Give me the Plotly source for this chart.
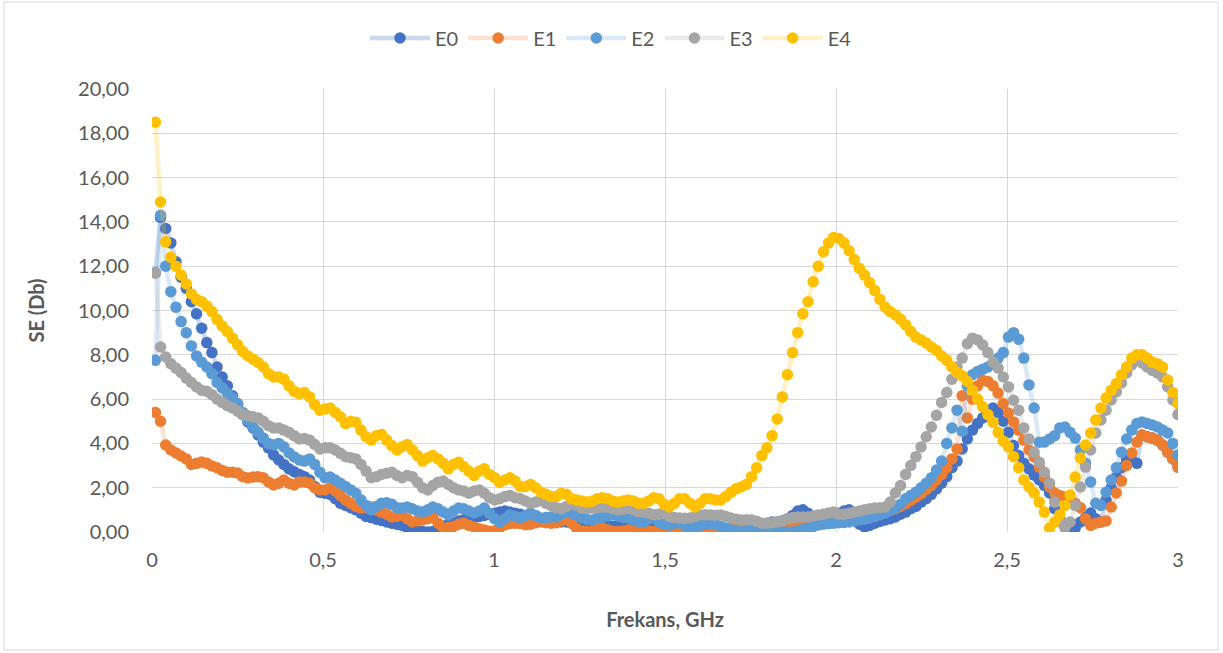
import numpy as np
import plotly.graph_objects as go

# Frequency sweep (GHz): 200 equally spaced measurement points
FREQ_START, FREQ_STOP, N_POINTS = 0.01, 3.0, 200
freq = np.linspace(FREQ_START, FREQ_STOP, N_POINTS)

series_names = ["E0", "E1", "E2", "E3", "E4"]

E0 = [
    11.7, 14.2, 13.7, 13.05, 12.2, 11.5, 11.0, 10.4, 9.85, 9.2,
    8.55, 8.1, 7.45, 7.0, 6.6, 6.15, 5.75, 5.3, 4.97, 4.7,
    4.38, 4.06, 3.8, 3.48, 3.25, 3.05, 2.85, 2.72, 2.6, 2.5,
    2.35, 2.05, 1.8, 1.75, 1.7, 1.5, 1.3, 1.2, 1.1, 1.0,
    0.85, 0.7, 0.65, 0.58, 0.52, 0.45, 0.4, 0.35, 0.3, 0.2,
    0.1, 0.05, 0.02, 0.0, 0.02, 0.1, 0.25, 0.35, 0.4, 0.5,
    0.55, 0.6, 0.65, 0.7, 0.75, 0.8, 0.85, 0.9, 0.95, 0.9,
    0.85, 0.8, 0.75, 0.7, 0.65, 0.6, 0.55, 0.5, 0.5, 0.45,
    0.45, 0.4, 0.4, 0.35, 0.35, 0.3, 0.35, 0.3, 0.3, 0.25,
    0.3, 0.25, 0.2, 0.25, 0.2, 0.2, 0.25, 0.2, 0.2, 0.2,
    0.2, 0.15, 0.15, 0.1, 0.1, 0.1, 0.1, 0.05, 0.05, 0.1,
    0.1, 0.1, 0.15, 0.2, 0.2, 0.25, 0.3, 0.3, 0.35, 0.4,
    0.45, 0.45, 0.5, 0.6, 0.75, 0.95, 1.0, 0.85, 0.6, 0.5,
    0.5, 0.55, 0.7, 0.85, 0.95, 1.0, 0.7, 0.35, 0.23, 0.3,
    0.4, 0.48, 0.54, 0.6, 0.68, 0.8, 0.9, 1.05, 1.15, 1.35,
    1.5, 1.7, 1.95, 2.2, 2.5, 2.9, 3.2, 3.75, 4.2, 4.6,
    4.9, 5.15, 5.4, 5.6, 5.4, 5.0, 4.5, 3.9, 3.45, 3.1,
    2.85, 2.57, 2.35, 2.1, 1.76, 1.05, 0.6, 0.3, 0.2, 0.18,
    0.45, 0.65, 0.86, 0.6, 0.45, 1.44, 2.0, 2.48, 2.9, 3.25,
    3.25, 3.1, 4.38, 4.3, 4.24, 4.15, 3.93, 3.6, 3.3, 2.93,
]

E1 = [
    5.4, 5.0, 3.93, 3.7, 3.57, 3.43, 3.3, 3.05, 3.1, 3.16,
    3.1, 2.98, 2.9, 2.78, 2.7, 2.7, 2.66, 2.5, 2.44, 2.48,
    2.5, 2.45, 2.26, 2.12, 2.2, 2.35, 2.2, 2.12, 2.26, 2.26,
    2.2, 2.0, 1.9, 1.9, 2.0, 1.85, 1.65, 1.45, 1.3, 1.15,
    1.08, 1.1, 1.13, 1.0, 0.9, 0.8, 0.68, 0.7, 0.77, 0.6,
    0.45, 0.5, 0.54, 0.6, 0.68, 0.4, 0.18, 0.2, 0.25, 0.35,
    0.4, 0.3, 0.23, 0.15, 0.09, 0.03, 0.05, 0.2, 0.32, 0.38,
    0.4, 0.38, 0.33, 0.35, 0.42, 0.45, 0.42, 0.4, 0.42, 0.5,
    0.54, 0.4, 0.15, 0.05, 0.02, 0.05, 0.12, 0.18, 0.1, 0.02,
    0.02, 0.05, 0.09, 0.05, 0.0, 0.02, 0.05, 0.02, 0.0, 0.02,
    0.05, 0.05, 0.1, 0.1, 0.05, 0.05, 0.1, 0.1, 0.15, 0.1,
    0.1, 0.15, 0.2, 0.2, 0.15, 0.2, 0.2, 0.25, 0.25, 0.3,
    0.3, 0.3, 0.35, 0.35, 0.4, 0.4, 0.45, 0.45, 0.5, 0.5,
    0.55, 0.55, 0.6, 0.6, 0.62, 0.65, 0.68, 0.7, 0.72, 0.75,
    0.8, 0.85, 0.9, 0.98, 1.05, 1.15, 1.28, 1.42, 1.57, 1.72,
    1.92, 2.1, 2.35, 2.6, 2.9, 3.3, 3.75, 6.15, 5.15, 6.0,
    6.6, 6.85, 6.8, 6.6, 6.27, 5.8, 5.37, 4.97, 4.6, 4.15,
    3.7, 3.39, 2.93, 2.48, 2.03, 1.76, 1.65, 1.58, 1.44, 1.3,
    1.1, 0.6, 0.3, 0.4, 0.45, 0.5, 1.13, 1.76, 2.3, 3.0,
    3.57, 4.06, 4.38, 4.3, 4.24, 4.15, 3.93, 3.6, 3.3, 2.93,
]

E2 = [
    7.75, 14.3, 12.0, 10.85, 10.15, 9.5, 9.0, 8.4, 7.95, 7.67,
    7.45, 7.15, 6.75, 6.5, 6.27, 6.05, 5.8, 5.4, 5.05, 4.75,
    4.5, 4.24, 4.0, 3.93, 4.0, 3.84, 3.57, 3.39, 3.25, 3.2,
    3.3, 3.05, 2.7, 2.45, 2.48, 2.35, 2.2, 2.05, 1.9, 1.75,
    1.45, 1.2, 1.0, 1.15, 1.3, 1.32, 1.25, 1.1, 1.08, 1.13,
    1.05, 0.95, 0.9, 1.0, 1.13, 1.05, 0.9, 0.77, 0.95, 1.08,
    1.05, 0.95, 0.86, 0.95, 1.08, 0.85, 0.6, 0.45, 0.6, 0.77,
    0.7, 0.63, 0.72, 0.86, 0.75, 0.63, 0.65, 0.68, 0.68, 0.8,
    0.9, 0.85, 0.77, 0.65, 0.56, 0.54, 0.62, 0.68, 0.72, 0.77,
    0.72, 0.65, 0.63, 0.55, 0.48, 0.45, 0.6, 0.65, 0.45, 0.35,
    0.32, 0.4, 0.45, 0.3, 0.2, 0.22, 0.3, 0.35, 0.4, 0.35,
    0.25, 0.18, 0.1, 0.05, 0.0, 0.05, 0.09, 0.1, 0.09, 0.08,
    0.09, 0.05, 0.0, 0.0, 0.0, 0.05, 0.12, 0.18, 0.25, 0.32,
    0.35, 0.38, 0.4, 0.42, 0.43, 0.45, 0.5, 0.55, 0.58, 0.63,
    0.7, 0.78, 0.86, 0.98, 1.1, 1.25, 1.5, 1.65, 1.8, 2.0,
    2.2, 2.45, 2.8, 3.2, 4.0, 4.7, 5.5, 4.55, 6.6, 7.1,
    7.25, 7.35, 7.45, 7.6, 7.85, 8.1, 8.8, 9.0, 8.7, 7.85,
    6.64, 5.6, 4.05, 4.06, 4.2, 4.35, 4.7, 4.74, 4.5, 4.24,
    3.7, 3.1, 2.26, 1.3, 1.2, 1.8, 2.35, 2.9, 3.6, 4.2,
    4.6, 4.9, 4.97, 4.9, 4.83, 4.74, 4.6, 4.47, 4.0, 3.48,
]

E3 = [
    11.7, 8.35, 7.9, 7.6, 7.4, 7.2, 6.95, 6.75, 6.55, 6.4,
    6.35, 6.2, 6.0, 5.85, 5.7, 5.6, 5.45, 5.3, 5.25, 5.2,
    5.15, 5.0, 4.8, 4.7, 4.7, 4.6, 4.5, 4.35, 4.2, 4.22,
    4.15, 3.95, 3.75, 3.8, 3.8, 3.7, 3.55, 3.4, 3.35, 3.3,
    3.05, 2.75, 2.45, 2.5, 2.6, 2.65, 2.7, 2.55, 2.45, 2.55,
    2.5, 2.25, 2.0, 1.9, 2.1, 2.25, 2.3, 2.15, 2.0, 1.9,
    1.85, 1.75, 1.85, 1.9, 1.75, 1.55, 1.45, 1.5, 1.6, 1.65,
    1.55, 1.5, 1.4, 1.3, 1.35, 1.42, 1.3, 1.2, 1.1, 1.05,
    1.15, 1.3, 1.2, 1.08, 1.05, 1.08, 1.1, 1.13, 1.12, 1.05,
    1.0, 1.02, 1.08, 1.0, 0.92, 0.9, 0.85, 0.78, 0.8, 0.9,
    0.7, 0.65, 0.63, 0.62, 0.63, 0.7, 0.77, 0.78, 0.77, 0.76,
    0.77, 0.7, 0.63, 0.58, 0.54, 0.55, 0.54, 0.48, 0.4, 0.4,
    0.42, 0.45, 0.5, 0.6, 0.65, 0.68, 0.68, 0.68, 0.72, 0.77,
    0.8, 0.86, 0.9, 0.8, 0.8, 0.85, 0.9, 0.95, 1.0, 1.05,
    1.08, 1.1, 1.13, 1.35, 1.76, 2.1, 2.6, 3.0, 3.4, 3.84,
    4.3, 4.74, 5.27, 5.85, 6.3, 6.9, 7.45, 7.85, 8.5, 8.75,
    8.67, 8.44, 8.1, 7.67, 7.4, 7.0, 6.55, 5.95, 5.5, 4.7,
    4.2, 3.6, 3.15, 2.7, 2.2, 1.35, 0.45, 0.18, 0.45, 1.2,
    2.03, 2.93, 3.7, 4.47, 5.06, 5.5, 5.96, 6.32, 6.73, 7.18,
    7.54, 7.77, 7.63, 7.45, 7.3, 7.18, 7.0, 6.55, 5.96, 5.3,
]

E4 = [
    18.5, 14.9, 13.1, 12.4, 12.0, 11.6, 11.2, 10.75, 10.5, 10.4,
    10.2, 9.95, 9.6, 9.3, 9.05, 8.75, 8.45, 8.15, 7.95, 7.8,
    7.65, 7.45, 7.15, 7.0, 7.0, 6.9, 6.6, 6.35, 6.25, 6.3,
    6.1, 5.75, 5.5, 5.55, 5.6, 5.4, 5.2, 4.9, 5.0, 4.95,
    4.6, 4.3, 4.15, 4.35, 4.4, 4.15, 3.9, 3.7, 3.85, 3.95,
    3.7, 3.45, 3.2, 3.35, 3.45, 3.3, 3.1, 2.85, 3.05, 3.15,
    2.95, 2.75, 2.55, 2.75, 2.85, 2.6, 2.45, 2.25, 2.35, 2.45,
    2.3, 2.05, 2.05, 2.15, 2.0, 1.8, 1.7, 1.6, 1.6, 1.75,
    1.7, 1.5, 1.45, 1.4, 1.35, 1.4, 1.5, 1.55, 1.5, 1.4,
    1.35, 1.4, 1.45, 1.4, 1.3, 1.3, 1.4, 1.55, 1.5, 1.25,
    1.13, 1.3, 1.5, 1.5, 1.3, 1.13, 1.3, 1.5, 1.5, 1.45,
    1.44, 1.6, 1.8, 1.95, 2.03, 2.15, 2.5, 2.9, 3.45, 3.8,
    4.35, 5.1, 6.1, 7.1, 8.1, 9.0, 9.85, 10.4, 11.3, 12.0,
    12.65, 13.05, 13.3, 13.25, 13.05, 12.7, 12.3, 11.9, 11.6, 11.25,
    10.9, 10.5, 10.15, 9.95, 9.8, 9.6, 9.35, 9.05, 8.8, 8.67,
    8.53, 8.35, 8.2, 7.95, 7.75, 7.45, 7.2, 7.05, 6.8, 6.4,
    6.0, 5.65, 5.3, 4.95, 4.5, 4.1, 3.84, 3.4, 2.9, 2.35,
    2.03, 1.76, 1.35, 0.9, 0.18, 0.45, 0.77, 1.2, 1.67, 2.48,
    3.34, 3.93, 4.47, 5.06, 5.6, 6.05, 6.4, 6.7, 7.1, 7.45,
    7.85, 8.0, 8.0, 7.85, 7.67, 7.6, 7.45, 6.86, 6.3, 5.8,
]

series_values = [E0, E1, E2, E3, E4]
marker_colors = ["#4472C4", "#ED7D31", "#5B9BD5", "#A5A5A5", "#FFC000"]
line_colors = ["rgba(68,114,196,0.28)", "rgba(237,125,49,0.22)", "rgba(91,155,213,0.22)",
               "rgba(165,165,165,0.22)", "rgba(255,192,0,0.22)"]

y_ticks = [0, 2, 4, 6, 8, 10, 12, 14, 16, 18, 20]
x_ticks = [0, 0.5, 1, 1.5, 2, 2.5, 3]

FONT = "Lato, 'Open Sans', sans-serif"
TXT = "#595959"
FS = 20

fig = go.Figure()
for name, vals, mc, lc in zip(series_names, series_values, marker_colors, line_colors):
    fig.add_trace(go.Scatter(
        x=freq, y=vals, name=name, mode="lines+markers",
        line=dict(color=lc, width=4.5),
        marker=dict(color=mc, size=11.5, line=dict(width=0)),
    ))

L, R, T, B = 152, 45, 89, 121
W, H = 1223, 653
pw, ph = W - L - R, H - T - B

def px2paper_x(px):
    return (px - L) / pw

def py2paper_y(py):
    return (H - B - py) / ph

fig.update_layout(
    width=W, height=H,
    margin=dict(l=L, r=R, t=T, b=B, autoexpand=False),
    paper_bgcolor="white", plot_bgcolor="white",
    separators=",.",
    font=dict(family=FONT, color=TXT, size=FS),
    showlegend=True,
    legend=dict(
        orientation="h", x=px2paper_x(611), xanchor="center",
        y=py2paper_y(38), yanchor="middle",
        font=dict(family=FONT, size=FS, color=TXT),
        itemwidth=60, bgcolor="rgba(0,0,0,0)",
        traceorder="normal",
    ),
    xaxis=dict(
        range=[0, 3], tickvals=x_ticks, showgrid=True, gridcolor="#D9D9D9", gridwidth=1.3,
        zeroline=False, showline=False, ticks="", ticklabelstandoff=14,
        tickfont=dict(family=FONT, size=FS, color=TXT),
        title=dict(text="<b>Frekans, GHz</b>", standoff=42,
                   font=dict(family=FONT, size=FS, color=TXT)),
    ),
    yaxis=dict(
        range=[0, 20], tickvals=y_ticks, tickformat=".2f", showgrid=True,
        gridcolor="#D9D9D9", gridwidth=1.3,
        zeroline=False, showline=False, ticks="", ticklabelstandoff=22,
        tickfont=dict(family=FONT, size=FS, color=TXT),
        title=dict(text="<b>SE (Db)</b>", standoff=28,
                   font=dict(family=FONT, size=FS, color=TXT)),
    ),
    shapes=[dict(
        type="rect", xref="paper", yref="paper",
        x0=px2paper_x(4), x1=px2paper_x(1218), y0=py2paper_y(650), y1=py2paper_y(2),
        line=dict(color="#D9D9D9", width=1), fillcolor="rgba(0,0,0,0)", layer="below",
    )],
)

fig.write_html("out.html")
